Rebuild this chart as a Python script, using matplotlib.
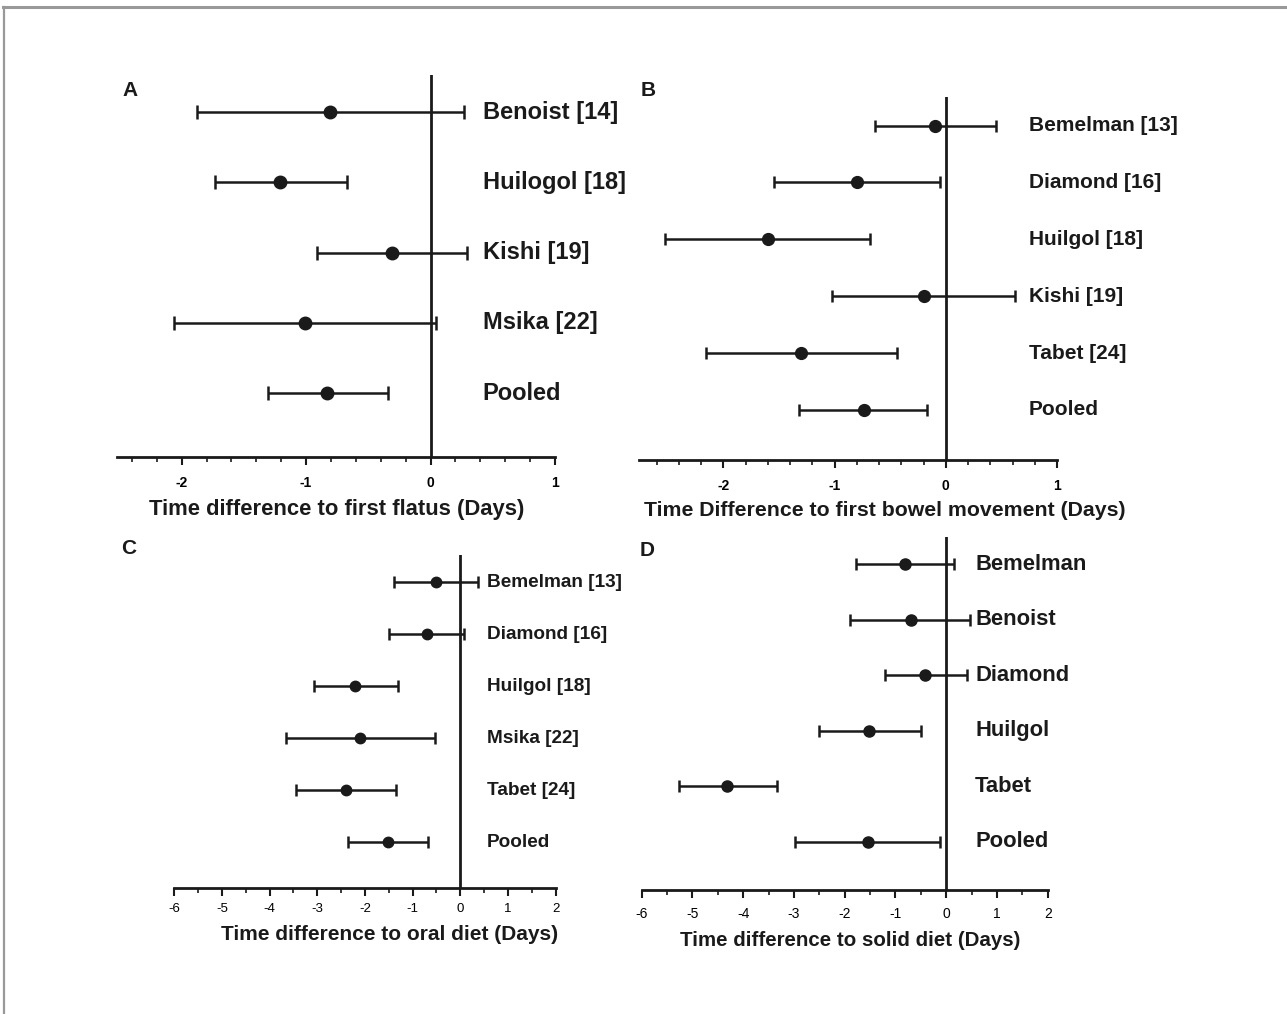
import matplotlib
matplotlib.use("Agg")
import matplotlib.pyplot as plt
from matplotlib.ticker import MultipleLocator
from matplotlib.lines import Line2D
import numpy as np

plt.rcParams['font.family'] = ['Liberation Sans', 'DejaVu Sans']

INK = '#1a1a1a'

# Panel A: time to first flatus
a_studies = ['Benoist [14]', 'Huilogol [18]', 'Kishi [19]', 'Msika [22]', 'Pooled']
a_est = [-0.81, -1.21, -0.31, -1.01, -0.83]
a_lo = [-1.88, -1.73, -0.91, -2.06, -1.31]
a_hi = [0.27, -0.67, 0.29, 0.04, -0.34]
a_ticks = [-2, -1, 0, 1]

# Panel B: time to first bowel movement
b_studies = ['Bemelman [13]', 'Diamond [16]', 'Huilgol [18]', 'Kishi [19]', 'Tabet [24]', 'Pooled']
b_est = [-0.10, -0.80, -1.60, -0.20, -1.30, -0.74]
b_lo = [-0.64, -1.55, -2.53, -1.02, -2.16, -1.32]
b_hi = [0.45, -0.05, -0.68, 0.62, -0.44, -0.17]
b_ticks = [-2, -1, 0, 1]

# Panel C: time to oral diet
c_studies = ['Bemelman [13]', 'Diamond [16]', 'Huilgol [18]', 'Msika [22]', 'Tabet [24]', 'Pooled']
c_est = [-0.50, -0.70, -2.20, -2.10, -2.40, -1.52]
c_lo = [-1.38, -1.50, -3.06, -3.65, -3.44, -2.35]
c_hi = [0.38, 0.08, -1.31, -0.54, -1.35, -0.68]
c_ticks = [-6, -5, -4, -3, -2, -1, 0, 1, 2]

# Panel D: time to solid diet
d_studies = ['Bemelman', 'Benoist', 'Diamond', 'Huilgol', 'Tabet', 'Pooled']
d_est = [-0.81, -0.70, -0.41, -1.52, -4.31, -1.55]
d_lo = [-1.78, -1.90, -1.21, -2.50, -5.27, -2.97]
d_hi = [0.16, 0.47, 0.40, -0.50, -3.33, -0.12]
d_ticks = [-6, -5, -4, -3, -2, -1, 0, 1, 2]

fig = plt.figure(figsize=(12.87, 10.14), dpi=100)
fig.patch.set_facecolor('white')

# thin grey frame along the top and left edges
fig.add_artist(Line2D([0.0025, 1.0], [1 - 6.5 / 1014, 1 - 6.5 / 1014], transform=fig.transFigure,
                      color='#999999', lw=2.2))
fig.add_artist(Line2D([4 / 1287, 4 / 1287], [0.0, 1 - 6.5 / 1014], transform=fig.transFigure,
                      color='#999999', lw=1.6))

panels = [
    dict(rect=[0.0909, 0.5493, 0.3403, 0.3767], studies=a_studies, est=a_est, lo=a_lo, hi=a_hi,
         ticks=a_ticks, xlim=(-2.52, 1.0), ylim=(0.09, 5.53), minor=0.2, lab_x=0.835, lab_fs=17,
         tick_fs=10, tick_bold=True, tick_pad=8, ms=9, cap=5, letter='A', letter_xy=(130, 91),
         xlabel='Time difference to first flatus (Days)', xlabel_xy=(337, 510), xlabel_fs=15.8),
    dict(rect=[0.4965, 0.5464, 0.3248, 0.3583], studies=b_studies, est=b_est, lo=b_lo, hi=b_hi,
         ticks=b_ticks, xlim=(-2.76, 1.0), ylim=(0.12, 6.51), minor=0.2, lab_x=0.933, lab_fs=15,
         tick_fs=10, tick_bold=True, tick_pad=8, ms=8.5, cap=4.5, letter='B', letter_xy=(648, 90),
         xlabel='Time Difference to first bowel movement (Days)', xlabel_xy=(885, 510), xlabel_fs=15.3),
    dict(rect=[0.1354, 0.1246, 0.2963, 0.3281], studies=c_studies, est=c_est, lo=c_lo, hi=c_hi,
         ticks=c_ticks, xlim=(-6.0, 2.0), ylim=(0.13, 6.52), minor=0.5, lab_x=0.819, lab_fs=13.7,
         tick_fs=9.5, tick_bold=False, tick_pad=5, ms=7.5, cap=4, letter='C', letter_xy=(129, 548),
         xlabel='Time difference to oral diet (Days)', xlabel_xy=(390, 935), xlabel_fs=15),
    dict(rect=[0.4986, 0.1223, 0.3155, 0.3481], studies=d_studies, est=d_est, lo=d_lo, hi=d_hi,
         ticks=d_ticks, xlim=(-6.0, 2.0), ylim=(0.13, 6.49), minor=0.5, lab_x=0.821, lab_fs=15.8,
         tick_fs=10, tick_bold=False, tick_pad=6, ms=8, cap=4.5, letter='D', letter_xy=(647, 550),
         xlabel='Time difference to solid diet (Days)', xlabel_xy=(850, 940), xlabel_fs=14.8),
]

W, H = 1287.0, 1014.0

for p in panels:
    ax = fig.add_axes(p['rect'])
    est = np.array(p['est'])
    lo = np.array(p['lo'])
    hi = np.array(p['hi'])
    n = len(est)
    ypos = np.arange(n, 0, -1)

    ax.axvline(0, color=INK, lw=2.0, zorder=1)
    ax.errorbar(est, ypos, xerr=[est - lo, hi - est], fmt='o', color=INK, ms=p['ms'],
                elinewidth=1.8, capsize=p['cap'], capthick=1.8, zorder=3)

    for name, y in zip(p['studies'], ypos):
        ax.text(p['lab_x'], y, name, transform=ax.get_yaxis_transform(), ha='left', va='center',
                fontsize=p['lab_fs'], fontweight='bold', color=INK, clip_on=False)

    ax.set_xlim(*p['xlim'])
    ax.set_ylim(*p['ylim'])
    for side in ('left', 'right', 'top'):
        ax.spines[side].set_visible(False)
    ax.spines['bottom'].set_linewidth(2.0)
    ax.spines['bottom'].set_color(INK)
    ax.set_yticks([])
    ax.set_xticks(p['ticks'])
    ax.set_xticklabels([str(t) for t in p['ticks']], fontsize=p['tick_fs'],
                       fontweight='bold' if p['tick_bold'] else 'normal')
    ax.xaxis.set_minor_locator(MultipleLocator(p['minor']))
    ax.tick_params(axis='x', which='major', length=6, width=1.5, color=INK, pad=p['tick_pad'])
    ax.tick_params(axis='x', which='minor', length=3.5, width=1.2, color=INK)
    ax.set_facecolor('none')

    lx, ly = p['letter_xy']
    fig.text(lx / W, 1 - ly / H, p['letter'], ha='center', va='center', fontsize=15,
             fontweight='bold', color=INK)
    tx, ty = p['xlabel_xy']
    fig.text(tx / W, 1 - ty / H, p['xlabel'], ha='center', va='center', fontsize=p['xlabel_fs'],
             fontweight='bold', color=INK)

fig.savefig('out.png', dpi=100, facecolor='white')
